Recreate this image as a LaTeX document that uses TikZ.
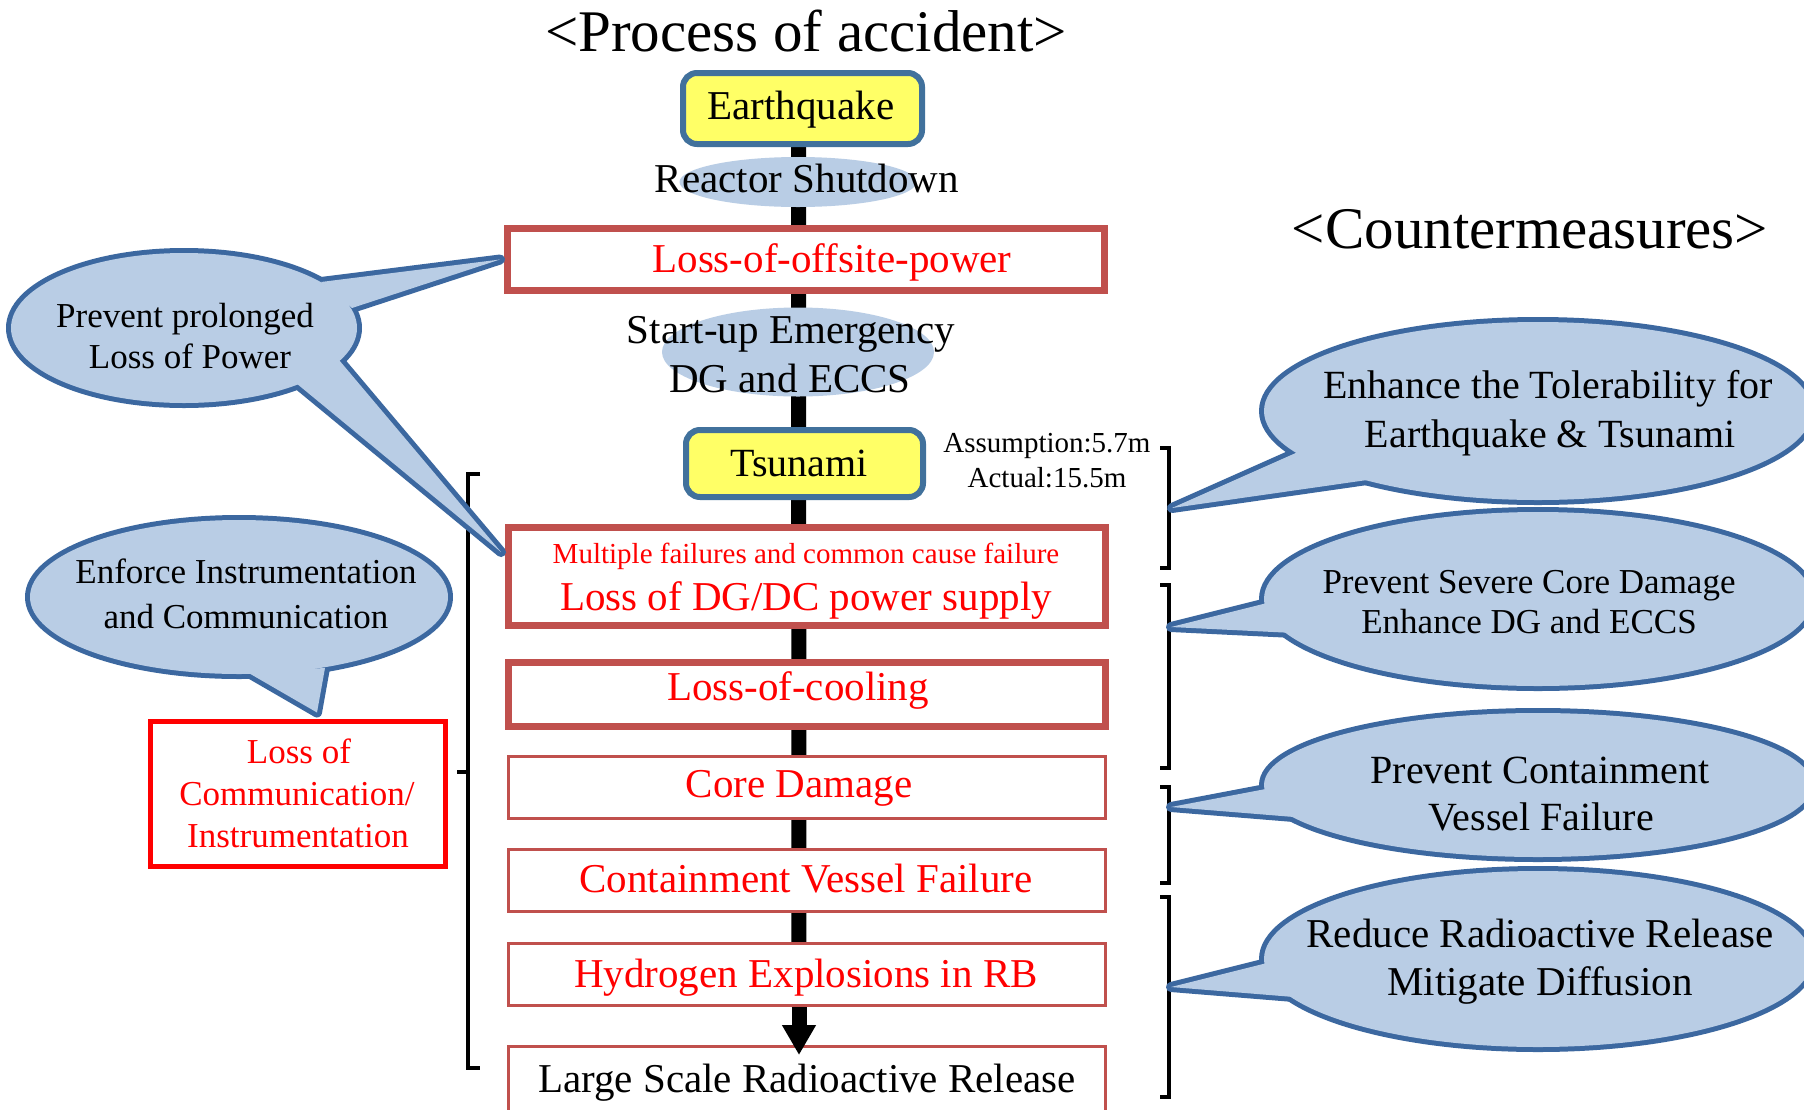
\documentclass[tikz,border=0pt]{standalone}
\usepackage{fontspec}
\setmainfont{Liberation Serif}
\usetikzlibrary{shapes.geometric,arrows.meta,calc,backgrounds}
\definecolor{cfill}{HTML}{B9CDE5}
\definecolor{cborder}{HTML}{3C68A0}
\definecolor{evyellow}{HTML}{FFFF66}
\definecolor{evblue}{HTML}{41719C}
\definecolor{boxred}{HTML}{C0504D}
\definecolor{txtred}{HTML}{FF0000}
\newcommand{\fsz}[1]{\fontsize{#1}{#1}\selectfont}
\newcommand{\bubbletail}[7]{%
  \path[cline] (#1,#2) ellipse [x radius=#3pt, y radius=#4pt];
  \path[cline] #5 -- #6 -- #7;
  \fill[cfill] (#1,#2) ellipse [x radius=#3pt, y radius=#4pt];
  \fill[cfill] #5 -- #6 -- #7 -- cycle;}
\begin{document}
\begin{tikzpicture}[x=1pt,y=-1pt,
  proc/.style={draw=boxred,line width=7pt,fill=white,inner sep=0pt,minimum width=597pt},
  procthin/.style={draw=boxred,line width=3pt,fill=white,inner sep=0pt,minimum width=597pt,minimum height=62pt},
  event/.style={draw=evblue,line width=6pt,fill=evyellow,rounded corners=14pt,inner sep=0pt},
  bubble/.style={ellipse,fill=cfill,inner sep=0pt},
  txt/.style={inner sep=0pt,anchor=base},
  rt/.style={txt,text=txtred},
  cline/.style={draw=cborder,line width=10pt,line join=round},
  bracket/.style={draw=black,line width=3.5pt},
  bar/.style={line width=15pt,draw=black},
]
\useasboundingbox (0,0) rectangle (1804,1109);

% process chain
\node[event,minimum width=239pt,minimum height=71pt] (eq) at (802.5,108.5) {};
\node[bubble,minimum width=237pt,minimum height=50pt] (rsE) at (798,182) {};
\node[proc,minimum height=62pt] (loop) at (806,259.5) {};
\node[bubble,minimum width=272pt,minimum height=89pt] (suE) at (798,352) {};
\node[event,minimum width=237pt,minimum height=67pt] (tsu) at (804.5,463.5) {};
\node[proc,minimum height=98pt] (mf) at (807,576.5) {};
\node[proc,minimum height=64pt] (loc) at (807,694.5) {};
\node[procthin] (cd) at (807,787.5) {};
\node[procthin] (cvf) at (807,880.5) {};
\node[procthin] (hyd) at (807,974.5) {};
\node[procthin,minimum height=70pt] (lsr) at (807,1081.5) {};

\begin{scope}[on background layer]
  \fill[white] (0,0) rectangle (1804,1109);
  \draw[bar] ([xshift=-4pt]eq.south) -- ([xshift=-8pt]hyd.south);
\end{scope}
\draw[bar,-{Triangle[width=32pt,length=30pt]}] ([xshift=-8pt]hyd.south) -- ($(lsr.north)+(-8,10)$);

% titles
\node[txt,font=\fsz{59}] (t1) at (806,51) {<Process of accident>};
\node[txt,font=\fsz{59}] (t2) at (1530,248) {<Countermeasures>};

% chain texts
\node[txt,font=\fsz{41}] (eqt) at (801,119) {Earthquake};
\node[txt,font=\fsz{41}] (rst) at (807,192) {Reactor Shutdown};
\node[rt,font=\fsz{41}] (loopt) at (832,272) {Loss-of-offsite-power};
\node[txt,font=\fsz{41}] (su1) at (791,343) {Start-up Emergency};
\node[txt,font=\fsz{41}] (su2) at (790,392) {DG and ECCS};
\node[txt,font=\fsz{40}] (tsut) at (799,476) {Tsunami};
\node[txt,font=\fsz{29}] (as1) at (1047,452) {Assumption:5.7m};
\node[txt,font=\fsz{29}] (as2) at (1047,487) {Actual:15.5m};
\node[rt,font=\fsz{29}] (mf1) at (806,563) {Multiple failures and common cause failure};
\node[rt,font=\fsz{41}] (mf2) at (806,610) {Loss of DG/DC power supply};
\node[rt,font=\fsz{41}] (loct) at (798,700) {Loss-of-cooling};
\node[rt,font=\fsz{41}] (cdt) at (799,797) {Core Damage};
\node[rt,font=\fsz{41}] (cvft) at (806,892) {Containment Vessel Failure};
\node[rt,font=\fsz{41}] (hydt) at (806,987) {Hydrogen Explosions in RB};
\node[txt,font=\fsz{41}] (lsrt) at (807,1092) {Large Scale Radioactive Release};

% left box
\node[draw=txtred,line width=5pt,fill=white,minimum width=295pt,minimum height=145pt,inner sep=0pt] (lcb) at (298,793.5) {};
\node[rt,font=\fsz{35}] (lc1) at (299,763) {Loss of};
\node[rt,font=\fsz{35}] (lc2) at (297,805) {Communication/};
\node[rt,font=\fsz{35}] (lc3) at (298,847) {Instrumentation};

% brackets
\draw[bracket] (480,474) -- (468,474) -- (468,1068) -- (480,1068);
\draw[bracket] (468,772) -- (457,772);
\draw[bracket] (1160,448) -- (1169,448) -- (1169,568) -- (1160,568);
\draw[bracket] (1160,585) -- (1169,585) -- (1169,768) -- (1160,768);
\draw[bracket] (1160,787) -- (1169,787) -- (1169,883) -- (1160,883);
\draw[bracket] (1160,897) -- (1169,897) -- (1169,1097) -- (1160,1097);
\coordinate (rb1) at (1172,508);
\coordinate (rb2) at (1171,627);
\coordinate (rb3) at (1171,807);
\coordinate (rb4) at (1171,987);

% left top callout (two tails)
\coordinate (c1) at (184,328);
\coordinate (tipA) at ($(loop.west)+(-4,0)$);
\coordinate (tipB) at ($(mf.north west)+(-4,28)$);
\path[cline] (c1) ellipse [x radius=173pt, y radius=75pt];
\path[cline] (321,282) -- (tipA) -- (352,308);
\path[cline] (339,360) -- (tipB) -- (296,383);
\fill[cfill] (c1) ellipse [x radius=173pt, y radius=75pt];
\fill[cfill] (321,282) -- (tipA) -- (352,308) -- cycle;
\fill[cfill] (339,360) -- (tipB) -- (296,383) -- cycle;
\node[txt,font=\fsz{35}] (pp1) at (185,327) {Prevent prolonged};
\node[txt,font=\fsz{35}] (pp2) at (190,368) {Loss of Power};

% left lower callout
\coordinate (tipC) at ($(lcb.north)+(19,-6)$);
\bubbletail{239}{597}{209}{77}{(247,672)}{(tipC)}{(325,668)}
\node[txt,font=\fsz{35}] (ei1) at (246,583) {Enforce Instrumentation};
\node[txt,font=\fsz{35}] (ei2) at (246,628) {and Communication};

% right callouts
\bubbletail{1538}{411}{274}{89}{(1298,452)}{(rb1)}{(1367,480)}
\node[txt,font=\fsz{40}] (r11) at (1548,398) {Enhance the Tolerability for};
\node[txt,font=\fsz{40}] (r12) at (1550,447) {Earthquake \& Tsunami};

\bubbletail{1538}{599}{274}{87}{(1271,602)}{(rb2)}{(1294,633)}
\node[txt,font=\fsz{35}] (r21) at (1529,593) {Prevent Severe Core Damage};
\node[txt,font=\fsz{35}] (r22) at (1529,633) {Enhance DG and ECCS};

\bubbletail{1538}{785}{274}{72}{(1271,788)}{(rb3)}{(1294,817)}
\node[txt,font=\fsz{40}] (r31) at (1540,783) {Prevent Containment};
\node[txt,font=\fsz{40}] (r32) at (1541,830) {Vessel Failure};

\bubbletail{1538}{959}{274}{88}{(1271,962)}{(rb4)}{(1294,997)}
\node[txt,font=\fsz{41}] (r41) at (1540,947) {Reduce Radioactive Release};
\node[txt,font=\fsz{41}] (r42) at (1540,995) {Mitigate Diffusion};
\end{tikzpicture}
\end{document}
